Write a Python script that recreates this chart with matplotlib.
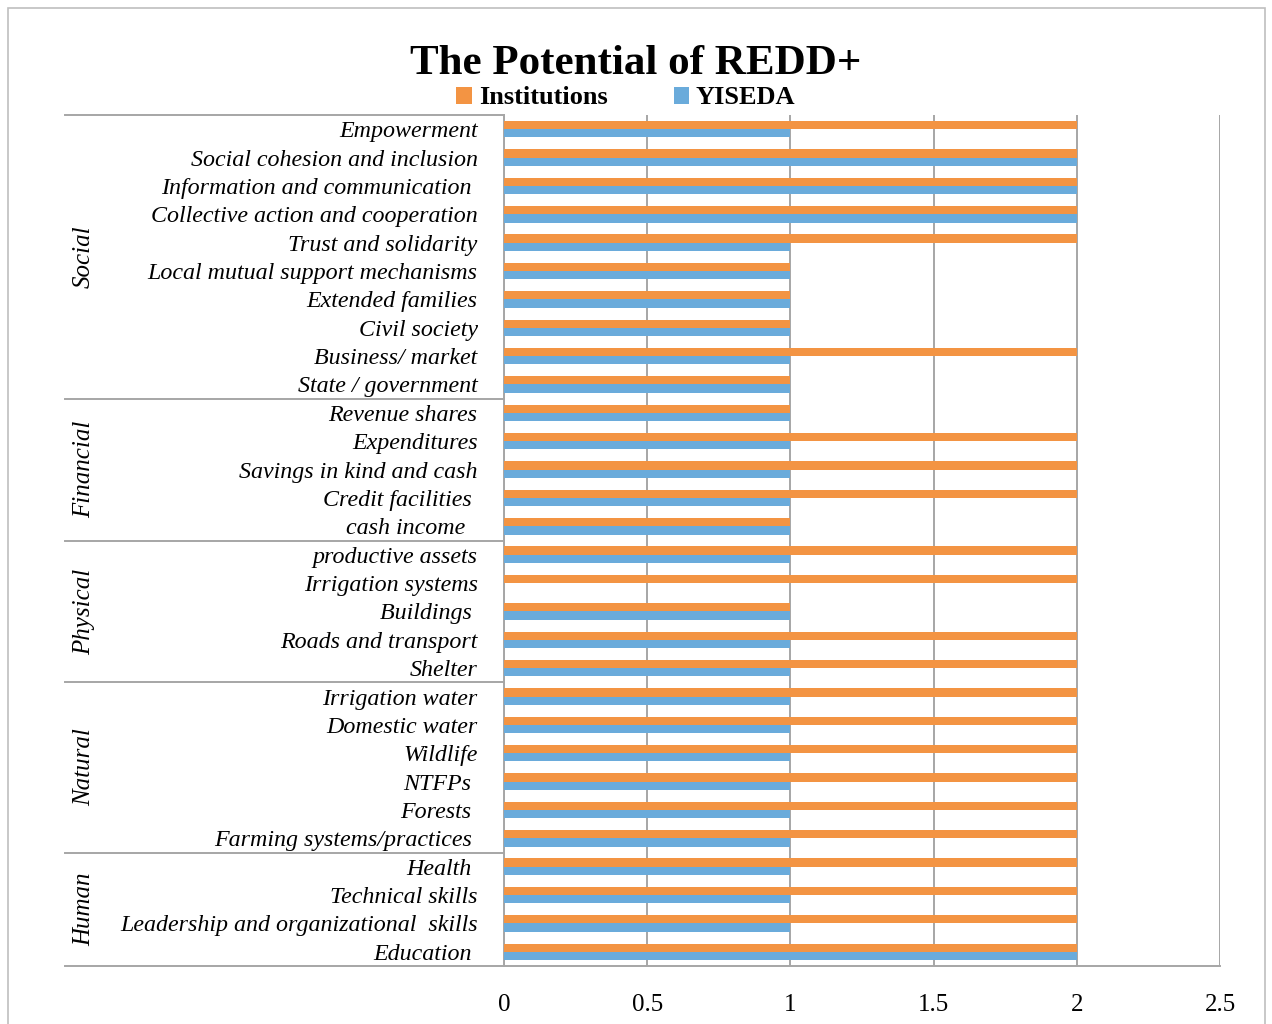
import matplotlib.pyplot as plt
from matplotlib.patches import Rectangle

# data, top to bottom
categories = ['Empowerment', 'Social cohesion and inclusion', 'Information and communication ',
              'Collective action and cooperation', 'Trust and solidarity',
              'Local mutual support mechanisms', 'Extended families', 'Civil society',
              'Business/ market', 'State / government',
              'Revenue shares', 'Expenditures', 'Savings in kind and cash', 'Credit facilities ',
              'cash income  ',
              'productive assets', 'Irrigation systems', 'Buildings ', 'Roads and transport', 'Shelter',
              'Irrigation water', 'Domestic water', 'Wildlife', 'NTFPs ', 'Forests ',
              'Farming systems/practices ',
              'Health ', 'Technical skills', 'Leadership and organizational  skills', 'Education ']
institutions = [2, 2, 2, 2, 2, 1, 1, 1, 2, 1,
                1, 2, 2, 2, 1,
                2, 2, 1, 2, 2,
                2, 2, 2, 2, 2, 2,
                2, 2, 2, 2]
yiseda = [1, 2, 2, 2, 1, 1, 1, 1, 1, 1,
          1, 1, 1, 1, 1,
          1, 0, 1, 1, 1,
          1, 1, 1, 1, 1, 1,
          1, 1, 1, 2]
groups = ['Social', 'Financial', 'Physical', 'Natural', 'Human']
group_sizes = [10, 5, 5, 6, 4]
xticks = [0, 0.5, 1, 1.5, 2, 2.5]

orange = '#F39443'
blue = '#6AABDB'
grid_gray = '#A6A6A6'

fig = plt.figure(figsize=(12.72, 10.24), dpi=100)
ax = fig.add_axes([504/1272, 1 - 966/1024, (1220 - 504)/1272, (966 - 115)/1024])

# bars: orange above, blue below in each category
h = 0.29
pos = list(range(len(categories)))
ax.barh([p - h/2 for p in pos], institutions, height=h, color=orange, label='Institutions', zorder=3)
ax.barh([p + h/2 for p in pos], yiseda, height=h, color=blue, label='YISEDA', zorder=3)

ax.set_ylim(len(categories) - 0.5, -0.5)
ax.set_xlim(0, 2.5)
ax.set_xticks(xticks)
ax.set_xticklabels([f'{t:g}' for t in xticks], fontfamily='Liberation Serif', fontsize=18)
ax.tick_params(axis='x', length=0, pad=20)
ax.set_yticks(pos)
ax.set_yticklabels(categories, fontfamily='Liberation Serif', fontstyle='italic', fontsize=17.3)
ax.tick_params(axis='y', length=0, pad=19)

ax.grid(axis='x', color=grid_gray, linewidth=1.4, zorder=0)
for s in ['top', 'right']:
    ax.spines[s].set_visible(False)
ax.spines['left'].set_color(grid_gray)
ax.spines['bottom'].set_color(grid_gray)
ax.spines['left'].set_linewidth(1.4)
ax.spines['bottom'].set_linewidth(1.4)

# group separators and rotated group names on the left
trans = ax.get_yaxis_transform()
x_left = -(504 - 65) / (1220 - 504)
x_name = -(504 - 84) / (1220 - 504)
start = -0.5
ax.plot([x_left, 0], [start, start], transform=trans, color=grid_gray, lw=1.4, clip_on=False)
for name, n in zip(groups, group_sizes):
    end = start + n
    ax.plot([x_left, 0], [end, end], transform=trans, color=grid_gray, lw=1.4, clip_on=False)
    ax.text(x_name, (start + end) / 2, name, transform=trans, rotation=90, ha='center', va='center',
            fontfamily='Liberation Serif', fontstyle='italic', fontsize=18)
    start = end

# title and legend
fig.text(636/1272, 1 - 64/1024, 'The Potential of REDD+', ha='center', va='center',
         fontfamily='Liberation Serif', fontweight='bold', fontsize=31)
fig.legend(loc='center', bbox_to_anchor=(626/1272, 1 - 98/1024), ncol=2, frameon=False,
           prop={'family': 'Liberation Serif', 'weight': 'bold', 'size': 19},
           handlelength=0.6, handleheight=0.6, handletextpad=0.25, columnspacing=2.5,
           borderpad=0, borderaxespad=0)

# light outer border of the chart
fig.patches.append(Rectangle((8/1272, -0.05), (1265 - 8)/1272, 1.05 - 8/1024,
                             transform=fig.transFigure, fill=False, edgecolor='#BFBFBF', lw=1.2))

fig.savefig('out.png', dpi=100)
